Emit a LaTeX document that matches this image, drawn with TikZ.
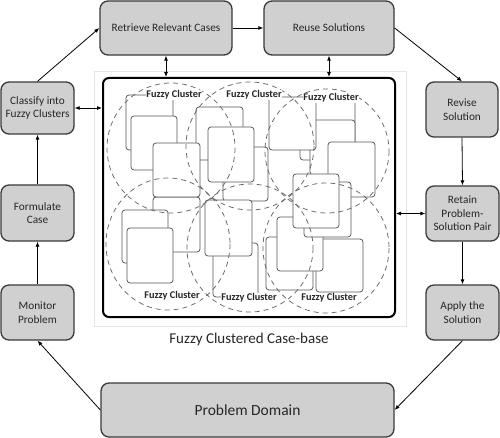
\documentclass[tikz,border=0pt]{standalone}
\usepackage{fontspec}
\setmainfont{Carlito}
\usetikzlibrary{arrows.meta}
\definecolor{boxfill}{HTML}{D0D0D0}
\definecolor{boxline}{HTML}{3A3A3A}
\definecolor{txt}{HTML}{262626}
\definecolor{cardline}{HTML}{555555}
\definecolor{dashline}{HTML}{666666}
\begin{document}
\begin{tikzpicture}[x=1pt,y=-1pt,
  procbox/.style={draw=boxline, fill=boxfill, line width=1.3pt, rounded corners=8pt,
    align=center, text=txt, font=\fontsize{11.3}{13.5}\selectfont, inner sep=2pt},
  flow/.style={-{Latex[length=5pt,width=4pt]}, line width=0.8pt},
  both/.style={{Latex[length=5pt,width=4pt]}-{Latex[length=5pt,width=4pt]}, line width=0.8pt},
  cardbox/.style={draw=cardline, fill=white, line width=0.75pt, rounded corners=3pt},
  clust/.style={draw=dashline, dash pattern=on 5pt off 4pt, line width=0.75pt},
  clabel/.style={fill=white, inner sep=0.8pt, font=\bfseries\fontsize{10.3}{12}\selectfont, text=txt}]
\useasboundingbox (0,0) rectangle (500,438);
% process boxes
\node[procbox, minimum width=132pt, minimum height=54pt] (retrieve) at (166,28) {Retrieve Relevant Cases};
\node[procbox, minimum width=130pt, minimum height=54pt] (reuse) at (329,28) {Reuse Solutions};
\node[procbox, minimum width=73pt, minimum height=52pt] (classify) at (37.5,108) {Classify into\\Fuzzy Clusters};
\node[procbox, minimum width=73pt, minimum height=56pt] (formulate) at (37.5,213) {Formulate\\Case};
\node[procbox, minimum width=73pt, minimum height=55pt] (monitor) at (37.5,312.5) {Monitor\\Problem};
\node[procbox, minimum width=72pt, minimum height=55pt] (revise) at (462,109.5) {Revise\\Solution};
\node[procbox, minimum width=73pt, minimum height=55pt] (retain) at (462.5,213.5) {Retain\\Problem-\\Solution Pair};
\node[procbox, minimum width=73pt, minimum height=55pt] (apply) at (462.5,312.5) {Apply the\\Solution};
\node[procbox, minimum width=293pt, minimum height=54pt, font=\fontsize{15.5}{18}\selectfont] (domain) at (247.5,410) {Problem Domain};
% case base
\draw[draw=black!10, fill=white, line width=0.6pt] (94,71) rectangle (406,326);
\node[draw=black, fill=white, line width=2pt, rounded corners=6pt, minimum width=292pt, minimum height=239pt, inner sep=0pt] (cb) at (249,197.5) {};
\node[font=\fontsize{15}{18}\selectfont, text=txt] (cap) at (249,339) {Fuzzy Clustered Case-base};
% cards (back to front)
\draw[cardbox] (126,95) rectangle (173,150);
\draw[cardbox] (131,116) rectangle (177,170);
\draw[cardbox] (196,107) rectangle (243,160);
\draw[cardbox] (153,197) rectangle (200,252);
\draw[cardbox] (153,143) rectangle (200,197);
\draw[cardbox] (223,147) rectangle (268,201);
\draw[cardbox] (208,127) rectangle (254,182);
\draw[cardbox] (300,98) rectangle (355,160);
\draw[cardbox] (310,120) rectangle (355,175);
\draw[cardbox] (269,97) rectangle (316,150);
\draw[cardbox] (328,142) rectangle (375,197);
\draw[cardbox] (122,210) rectangle (168,263);
\draw[cardbox] (127,228) rectangle (173,283);
\draw[cardbox] (213,243) rectangle (258,297);
\draw[cardbox] (205,200) rectangle (252,256);
\draw[cardbox] (316,239) rectangle (363,292);
\draw[cardbox] (266,237) rectangle (313,290);
\draw[cardbox] (277,217) rectangle (323,271);
\draw[cardbox] (304,182) rectangle (351,237);
\draw[cardbox] (293,174) rectangle (339,228);
% fuzzy clusters
\draw[clust] (171,148) ellipse[x radius=64, y radius=65];
\draw[clust] (250,146) ellipse[x radius=64, y radius=64];
\draw[clust] (327,151) ellipse[x radius=62, y radius=62];
\draw[clust] (168,244) ellipse[x radius=62, y radius=66];
\draw[clust] (250,248) ellipse[x radius=63, y radius=64];
\draw[clust] (326,248) ellipse[x radius=63, y radius=65];
% cluster labels
\node[clabel] (l1) at (174,95) {Fuzzy Cluster};
\node[clabel] (l2) at (254,95) {Fuzzy Cluster};
\node[clabel] (l3) at (331,98) {Fuzzy Cluster};
\node[clabel] (l4) at (172,296) {Fuzzy Cluster};
\node[clabel] (l5) at (249,298) {Fuzzy Cluster};
\node[clabel] (l6) at (329,298) {Fuzzy Cluster};
% cycle
\draw[flow] (classify.north) -- (retrieve.west);
\draw[flow] (retrieve.east) -- (reuse.west);
\draw[flow] (reuse.east) -- (revise.north);
\draw[flow] (revise.south) -- (retain.north);
\draw[flow] (retain.south) -- (apply.north);
\draw[flow] (apply.south) -- (domain.east);
\draw[flow] (domain.west) -- (monitor.south);
\draw[flow] (monitor.north) -- (formulate.south);
\draw[flow] (formulate.north) -- (classify.south);
% links to case base
\draw[both] (classify.east) -- (classify.east -| cb.west);
\draw[both] (retrieve.south) -- (retrieve.south |- cb.north);
\draw[both] (reuse.south) -- (reuse.south |- cb.north);
\draw[both] (retain.west) -- (retain.west -| cb.east);
\end{tikzpicture}
\end{document}
